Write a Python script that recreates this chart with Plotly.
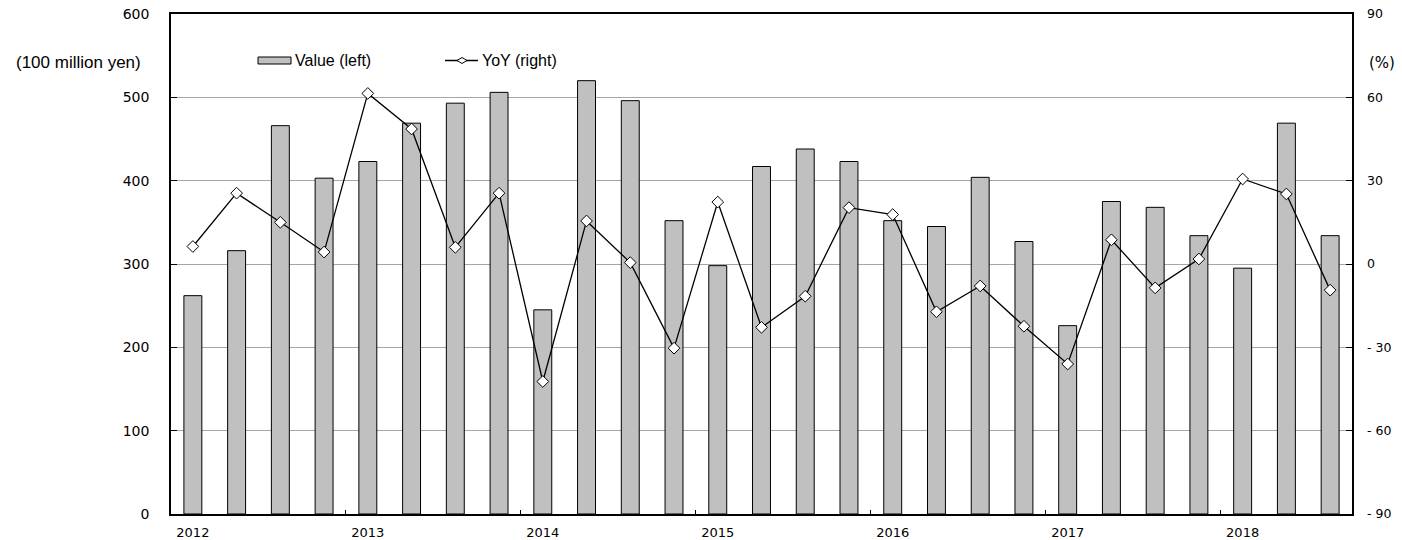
import plotly.graph_objects as go

# Quarterly values, 2012 Q1 - 2018 Q3
years = ["2012", "2013", "2014", "2015", "2016", "2017", "2018"]
value_left = [262, 316, 466, 403,
              423, 469, 493, 506,
              245, 520, 496, 352,
              298, 417, 438, 423,
              352, 345, 404, 327,
              226, 375, 368, 334,
              295, 469, 334]
yoy_right = [6.3, 25.5, 15.0, 4.3,
             61.4, 48.6, 6.0, 25.5,
             -42.3, 15.5, 0.5, -30.3,
             22.3, -22.8, -11.6, 20.3,
             17.8, -17.2, -7.9, -22.4,
             -36.0, 8.7, -8.6, 1.8,
             30.6, 25.2, -9.4]
left_ticks = [0, 100, 200, 300, 400, 500, 600]
right_ticks = [-90, -60, -30, 0, 30, 60, 90]
right_ticktext = ["- 90", "- 60", "- 30", "0", "30", "60", "90"]

n = len(value_left)
xs = list(range(n))
year_pos = list(range(0, n, 4))
year_bounds = [p - 0.5 for p in year_pos[1:]]

W, H = 1402, 540
L, R, T, B = 171, 50, 14, 26
pw, ph = W - L - R, H - T - B


def px(x):
    return (x - L) / pw


def py(y):
    return (H - B - y) / ph


fig = go.Figure()
fig.add_trace(go.Bar(
    x=xs, y=value_left, name="Value (left)",
    marker=dict(color="#C0C0C0", line=dict(color="#000000", width=1)),
    yaxis="y", showlegend=False,
))
fig.add_trace(go.Scatter(
    x=xs, y=yoy_right, name="YoY (right)", mode="lines+markers",
    line=dict(color="#000000", width=1.3),
    marker=dict(symbol="diamond", size=9, color="#FFFFFF",
                line=dict(color="#000000", width=1)),
    yaxis="y2", showlegend=False,
))

# Legend drawn by hand: wide bar swatch and line-with-diamond swatch
shapes = [
    dict(type="rect", xref="paper", yref="paper",
         x0=px(258), x1=px(291), y0=py(64), y1=py(57),
         fillcolor="#C0C0C0", line=dict(color="#000000", width=1), layer="above"),
    dict(type="line", xref="paper", yref="paper",
         x0=px(445), x1=px(478), y0=py(60.5), y1=py(60.5),
         line=dict(color="#000000", width=1.3), layer="above"),
    dict(type="path", xref="paper", yref="paper",
         path=f"M {px(457)},{py(60.5)} L {px(462)},{py(57.5)} L {px(467)},{py(60.5)} "
              f"L {px(462)},{py(63.5)} Z",
         fillcolor="#FFFFFF", line=dict(color="#000000", width=1), layer="above"),
]

annotations = [
    dict(text="Value (left)", xref="paper", yref="paper", x=px(293), y=py(60.5),
         xanchor="left", yanchor="middle", showarrow=False,
         font=dict(family="Liberation Sans, Arial, sans-serif", size=16, color="#000")),
    dict(text="YoY (right)", xref="paper", yref="paper", x=px(480), y=py(60.5),
         xanchor="left", yanchor="middle", showarrow=False,
         font=dict(family="Liberation Sans, Arial, sans-serif", size=16, color="#000")),
    dict(text="(100 million yen)", xref="paper", yref="paper", x=px(143), y=py(63),
         xanchor="right", yanchor="middle", showarrow=False,
         font=dict(family="Liberation Sans Narrow, Liberation Sans, Arial Narrow, sans-serif",
                   size=17, color="#000")),
    dict(text="(%)", xref="paper", yref="paper", x=px(1367), y=py(63),
         xanchor="left", yanchor="middle", showarrow=False,
         font=dict(family="DejaVu Sans, sans-serif", size=15, color="#000")),
]

fig.update_layout(
    width=W, height=H,
    margin=dict(l=L, r=R, t=T, b=B, autoexpand=False),
    paper_bgcolor="#FFFFFF", plot_bgcolor="#FFFFFF",
    bargap=0.59,
    showlegend=False,
    shapes=shapes,
    annotations=annotations,
    xaxis=dict(
        range=[-0.5, n - 0.5], automargin=False,
        tickvals=year_pos, ticktext=years, ticks="",
        tickfont=dict(family="DejaVu Sans, sans-serif", size=13, color="#000"),
        ticklabelstandoff=5,
        showgrid=False, zeroline=False,
        showline=True, linecolor="#000000", linewidth=2, mirror=True,
        minor=dict(tickvals=year_bounds, ticks="inside", ticklen=4,
                   tickcolor="#000000", tickwidth=1, showgrid=False),
    ),
    yaxis=dict(
        range=[0, 600], tickvals=left_ticks, automargin=False,
        tickfont=dict(family="DejaVu Sans, sans-serif", size=14, color="#000"),
        ticks="inside", ticklen=6, tickcolor="#000000",
        ticklabelstandoff=17,
        showgrid=True, gridcolor="#A6A6A6", gridwidth=1,
        zeroline=False,
        showline=True, linecolor="#000000", linewidth=1.5, mirror=True,
    ),
    yaxis2=dict(
        range=[-90, 90], tickvals=right_ticks, ticktext=right_ticktext,
        overlaying="y", side="right", automargin=False,
        tickfont=dict(family="DejaVu Sans, sans-serif", size=12.5, color="#000"),
        ticks="inside", ticklen=6, tickcolor="#000000",
        ticklabelstandoff=14,
        showgrid=False, zeroline=False, showline=False,
    ),
)

fig.write_html("out.html")
